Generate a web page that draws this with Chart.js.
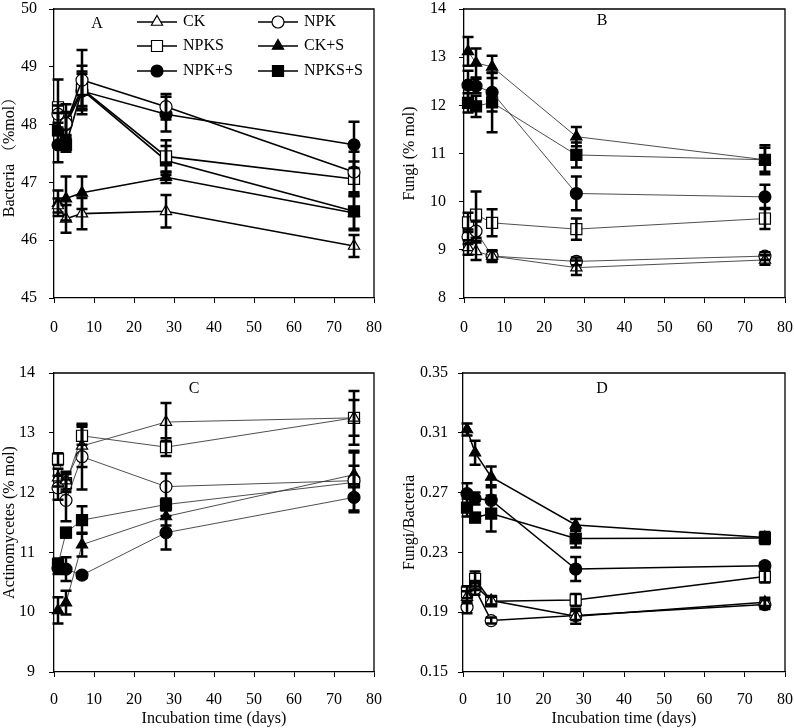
<!DOCTYPE html>
<html>
<head>
<meta charset="utf-8">
<script src="https://cdn.jsdelivr.net/npm/chart.js@4/dist/chart.umd.min.js"></script>
<style>
  body { margin: 0; background: #fff; }
  #wrap { position: relative; width: 794px; height: 728px; background: #fff; }
  #wrap canvas { position: absolute; }
</style>
</head>
<body>
<div id="wrap">
  <canvas id="panelA" width="397" height="364" style="left:0;top:0"></canvas>
  <canvas id="panelB" width="397" height="364" style="left:397px;top:0"></canvas>
  <canvas id="panelC" width="397" height="364" style="left:0;top:364px"></canvas>
  <canvas id="panelD" width="397" height="364" style="left:397px;top:364px"></canvas>
</div>
<script>
/* =========================================================
   Data
   ========================================================= */
const days = [1, 3, 7, 28, 75];
const seriesNames = ['CK', 'NPK', 'NPKS', 'CK+S', 'NPK+S', 'NPKS+S'];
const xTicks = [0, 10, 20, 30, 40, 50, 60, 70, 80];

// A — Bacteria (%mol)
const bacteriaTicks = [45, 46, 47, 48, 49, 50];
const bacteriaCK = [46.6, 46.37, 46.46, 46.5, 45.9];
const bacteriaCKErr = [0.12, 0.24, 0.27, 0.28, 0.19];
const bacteriaNPK = [48.18, 48.02, 48.77, 48.31, 47.18];
const bacteriaNPKErr = [0.15, 0.2, 0.52, 0.22, 0.35];
const bacteriaNPKS = [48.3, 48.05, 48.62, 47.45, 47.06];
const bacteriaNPKSErr = [0.48, 0.3, 0.3, 0.28, 0.3];
const bacteriaCKS = [46.64, 46.72, 46.82, 47.09, 46.47];
const bacteriaCKSErr = [0.22, 0.38, 0.28, 0.1, 0.3];
const bacteriaNPK_S = [47.65, 48.0, 48.58, 48.18, 47.65];
const bacteriaNPK_SErr = [0.3, 0.2, 0.3, 0.3, 0.4];
const bacteriaNPKS_S = [47.9, 47.65, 48.6, 47.38, 46.5];
const bacteriaNPKS_SErr = [0.3, 0.12, 0.42, 0.25, 0.3];

// B — Fungi (% mol)
const fungiTicks = [8, 9, 10, 11, 12, 13, 14];
const fungiCK = [9.05, 8.97, 8.87, 8.63, 8.79];
const fungiCKErr = [0.15, 0.18, 0.12, 0.15, 0.1];
const fungiNPK = [9.27, 9.39, 8.87, 8.76, 8.87];
const fungiNPKErr = [0.15, 0.2, 0.1, 0.08, 0.08];
const fungiNPKS = [9.57, 9.73, 9.56, 9.43, 9.65];
const fungiNPKSErr = [0.2, 0.48, 0.28, 0.22, 0.22];
const fungiCKS = [13.12, 12.88, 12.8, 11.35, 10.87];
const fungiCKSErr = [0.3, 0.3, 0.23, 0.2, 0.3];
const fungiNPK_S = [12.42, 12.4, 12.27, 10.17, 10.1];
const fungiNPK_SErr = [0.3, 0.15, 0.4, 0.35, 0.25];
const fungiNPKS_S = [12.05, 11.98, 12.06, 10.97, 10.87];
const fungiNPKS_SErr = [0.2, 0.22, 0.62, 0.26, 0.25];

// C — Actinomycetes (% mol)
const actinoTicks = [9, 10, 11, 12, 13, 14];
const actinoCK = [12.25, 12.2, 12.78, 13.18, 13.25];
const actinoCKErr = [0.15, 0.15, 0.35, 0.32, 0.3];
const actinoNPK = [12.08, 11.87, 12.6, 12.1, 12.2];
const actinoNPKErr = [0.2, 0.35, 0.55, 0.22, 0.25];
const actinoNPKS = [12.56, 12.16, 12.95, 12.76, 13.25];
const actinoNPKSErr = [0.1, 0.15, 0.15, 0.15, 0.45];
const actinoCKS = [10.03, 10.16, 11.13, 11.6, 12.3];
const actinoCKSErr = [0.22, 0.2, 0.2, 0.15, 0.4];
const actinoNPK_S = [10.74, 10.72, 10.62, 11.33, 11.92];
const actinoNPK_SErr = [0.1, 0.2, 0.05, 0.28, 0.22];
const actinoNPKS_S = [10.8, 11.33, 11.54, 11.8, 12.17];
const actinoNPKS_SErr = [0.1, 0.08, 0.23, 0.1, 0.5];

// D — Fungi/Bacteria
const ratioTicks = [0.15, 0.19, 0.23, 0.27, 0.31, 0.35];
const ratioCK = [0.2, 0.2078, 0.1978, 0.1873, 0.1967];
const ratioCKErr = [0.004, 0.003, 0.003, 0.005, 0.003];
const ratioNPK = [0.1933, 0.2056, 0.1844, 0.1878, 0.1951];
const ratioNPKErr = [0.004, 0.004, 0.002, 0.003, 0.003];
const ratioNPKS = [0.2033, 0.2122, 0.1973, 0.1982, 0.2138];
const ratioNPKSErr = [0.004, 0.005, 0.003, 0.004, 0.004];
const ratioCKS = [0.3122, 0.2967, 0.2805, 0.2484, 0.24];
const ratioCKSErr = [0.004, 0.008, 0.007, 0.004, 0.003];
const ratioNPK_S = [0.2693, 0.266, 0.2649, 0.2189, 0.2211];
const ratioNPK_SErr = [0.007, 0.004, 0.01, 0.008, 0.002];
const ratioNPKS_S = [0.26, 0.2533, 0.256, 0.2393, 0.2396];
const ratioNPKS_SErr = [0.006, 0.003, 0.012, 0.006, 0.004];

/* =========================================================
   Styles
   ========================================================= */
const FONT = '"Liberation Serif", "Times New Roman", "Noto Serif CJK SC", "Noto Sans CJK SC", serif';
Chart.defaults.font.family = FONT;
Chart.defaults.font.size = 16;
Chart.defaults.color = '#000';

// one marker per series, same order as seriesNames
const markerStyles = [
  { pointStyle: 'triangle', filled: false, radius: 6.5 },
  { pointStyle: 'circle',   filled: false, radius: 6 },
  { pointStyle: 'rect',     filled: false, radius: 7.8 },
  { pointStyle: 'triangle', filled: true,  radius: 6.5 },
  { pointStyle: 'circle',   filled: true,  radius: 6 },
  { pointStyle: 'rect',     filled: true,  radius: 7.8 },
];

/* =========================================================
   Plugins: error bars, frame, panel letter + legend
   ========================================================= */
const errorBarPlugin = {
  id: 'errorBars',
  afterDatasetsDraw(chart) {
    const ctx = chart.ctx;
    const yScale = chart.scales.y;
    ctx.save();
    ctx.strokeStyle = '#000';
    ctx.lineWidth = 2.5;
    chart.data.datasets.forEach((ds, di) => {
      const meta = chart.getDatasetMeta(di);
      meta.data.forEach((pt, i) => {
        const err = ds.errors[i];
        if (!err) return;
        const v = ds.data[i].y;
        const top = yScale.getPixelForValue(v + err);
        const bot = yScale.getPixelForValue(v - err);
        const x = pt.x;
        ctx.beginPath();
        ctx.moveTo(x, top); ctx.lineTo(x, bot);
        ctx.moveTo(x - 5.5, top); ctx.lineTo(x + 5.5, top);
        ctx.moveTo(x - 5.5, bot); ctx.lineTo(x + 5.5, bot);
        ctx.stroke();
      });
    });
    ctx.restore();
  }
};

function drawMarker(ctx, style, x, y) {
  ctx.fillStyle = style.filled ? '#000' : '#fff';
  ctx.strokeStyle = '#000';
  ctx.lineWidth = 1.2;
  Chart.helpers.drawPoint(ctx, {
    pointStyle: style.pointStyle, radius: style.radius, borderWidth: 1.2, rotation: 0
  }, x, y);
}

const decorPlugin = {
  id: 'panelDecor',
  afterDraw(chart, args, opts) {
    const { ctx, chartArea: a } = chart;
    ctx.save();
    // top and right edges of the box
    ctx.strokeStyle = '#000';
    ctx.lineWidth = 1.3;
    ctx.beginPath();
    ctx.moveTo(a.left, a.top); ctx.lineTo(a.right, a.top); ctx.lineTo(a.right, a.bottom);
    ctx.stroke();

    ctx.font = '16px ' + FONT;
    ctx.fillStyle = '#000';
    ctx.textAlign = 'center';
    ctx.textBaseline = 'middle';
    ctx.fillText(opts.letter, opts.letterX, opts.letterY);

    if (opts.legend) {
      const rows = [22, 46, 71];
      const cols = [137, 258];
      seriesNames.forEach((name, k) => {
        const x0 = cols[k % 2];
        const y = rows[Math.floor(k / 2)];
        ctx.strokeStyle = '#000';
        ctx.lineWidth = 1.6;
        ctx.beginPath();
        ctx.moveTo(x0, y); ctx.lineTo(x0 + 40, y);
        ctx.stroke();
        drawMarker(ctx, markerStyles[k], x0 + 20, y);
        ctx.fillStyle = '#000';
        ctx.textAlign = 'left';
        ctx.fillText(name, x0 + 46, y);
      });
    }
    ctx.restore();
  }
};

/* =========================================================
   Panel builder
   ========================================================= */
function buildPanel(id, p) {
  const datasets = p.values.map((vals, k) => {
    const m = markerStyles[k];
    return {
      label: seriesNames[k],
      data: days.map((d, i) => ({ x: d, y: vals[i] })),
      errors: p.errors[k],
      borderColor: p.lineColor,
      borderWidth: p.lineWidth,
      tension: 0,
      clip: false,
      pointStyle: m.pointStyle,
      pointRadius: m.radius,
      pointBackgroundColor: m.filled ? '#000' : '#fff',
      pointBorderColor: '#000',
      pointBorderWidth: 1.2,
    };
  });

  const tickGrid = {
    display: true, drawOnChartArea: false, drawTicks: true,
    tickLength: 5, tickColor: '#000', tickWidth: 1
  };

  new Chart(document.getElementById(id), {
    type: 'line',
    data: { datasets },
    plugins: [errorBarPlugin, decorPlugin],
    options: {
      responsive: false,
      animation: false,
      devicePixelRatio: 1,
      events: [],
      layout: { padding: { top: p.padTop, right: p.padRight, left: 0, bottom: 0 } },
      plugins: {
        legend: { display: false },
        tooltip: { enabled: false },
        panelDecor: { letter: p.letter, letterX: p.letterX, letterY: p.letterY, legend: !!p.legend }
      },
      scales: {
        x: {
          type: 'linear', min: 0, max: 80,
          afterBuildTicks: s => { s.ticks = xTicks.map(v => ({ value: v })); },
          afterFit: s => { s.height = p.xHeight; s.paddingLeft = 0; s.paddingRight = 0; },
          grid: tickGrid,
          border: { display: true, color: '#000', width: 1.3 },
          ticks: { padding: p.xTickPad, maxRotation: 0, autoSkip: false, color: '#000' },
          title: {
            display: !!p.xTitle, text: 'Incubation time (days)',
            padding: { top: 0, bottom: 0 }, color: '#000'
          }
        },
        y: {
          type: 'linear',
          min: p.yTicks[0], max: p.yTicks[p.yTicks.length - 1],
          afterBuildTicks: s => { s.ticks = p.yTicks.map(v => ({ value: v })); },
          afterFit: s => { s.width = p.yWidth; s.paddingTop = 0; s.paddingBottom = 0; },
          grid: tickGrid,
          border: { display: true, color: '#000', width: 1.3 },
          ticks: {
            padding: p.yTickPad, autoSkip: false, color: '#000',
            callback: v => p.yFormat ? p.yFormat(v) : String(v)
          },
          title: {
            display: true, text: p.yTitle,
            padding: { top: p.yTitlePad, bottom: 0 }, color: '#000'
          }
        }
      }
    }
  });
}

/* =========================================================
   Four panels
   ========================================================= */
buildPanel('panelA', {
  values: [bacteriaCK, bacteriaNPK, bacteriaNPKS, bacteriaCKS, bacteriaNPK_S, bacteriaNPKS_S],
  errors: [bacteriaCKErr, bacteriaNPKErr, bacteriaNPKSErr, bacteriaCKSErr, bacteriaNPK_SErr, bacteriaNPKS_SErr],
  yTicks: bacteriaTicks, yTitle: 'Bacteria （%mol）', yTitlePad: 0,
  padTop: 5, padRight: 23, yWidth: 54, xHeight: 66, yTickPad: 12, xTickPad: 15,
  lineColor: '#000', lineWidth: 1.6,
  letter: 'A', letterX: 97, letterY: 24, legend: true
});

buildPanel('panelB', {
  values: [fungiCK, fungiNPK, fungiNPKS, fungiCKS, fungiNPK_S, fungiNPKS_S],
  errors: [fungiCKErr, fungiNPKErr, fungiNPKSErr, fungiCKSErr, fungiNPK_SErr, fungiNPKS_SErr],
  yTicks: fungiTicks, yTitle: 'Fungi (% mol)', yTitlePad: 3,
  padTop: 5, padRight: 8, yWidth: 67, xHeight: 66, yTickPad: 13, xTickPad: 15,
  lineColor: '#3a3a3a', lineWidth: 0.9,
  letter: 'B', letterX: 205, letterY: 21
});

buildPanel('panelC', {
  values: [actinoCK, actinoNPK, actinoNPKS, actinoCKS, actinoNPK_S, actinoNPKS_S],
  errors: [actinoCKErr, actinoNPKErr, actinoNPKSErr, actinoCKSErr, actinoNPK_SErr, actinoNPKS_SErr],
  yTicks: actinoTicks, yTitle: 'Actinomycetes (% mol)', yTitlePad: 0,
  padTop: 8, padRight: 23, yWidth: 54, xHeight: 56, yTickPad: 14, xTickPad: 13, xTitle: true,
  lineColor: '#3a3a3a', lineWidth: 0.9,
  letter: 'C', letterX: 194, letterY: 25
});

buildPanel('panelD', {
  values: [ratioCK, ratioNPK, ratioNPKS, ratioCKS, ratioNPK_S, ratioNPKS_S],
  errors: [ratioCKErr, ratioNPKErr, ratioNPKSErr, ratioCKSErr, ratioNPK_SErr, ratioNPKS_SErr],
  yTicks: ratioTicks, yTitle: 'Fungi/Bacteria', yTitlePad: 3, yFormat: v => v.toFixed(2),
  padTop: 8, padRight: 8, yWidth: 66, xHeight: 56, yTickPad: 10, xTickPad: 13, xTitle: true,
  lineColor: '#000', lineWidth: 1.5,
  letter: 'D', letterX: 205, letterY: 25
});
</script>
</body>
</html>
